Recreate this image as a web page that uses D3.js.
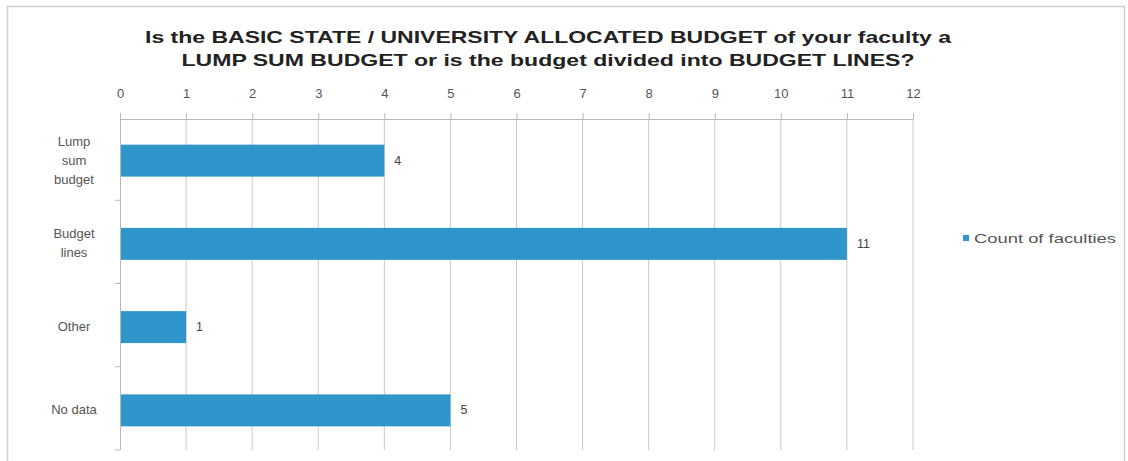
<!DOCTYPE html>
<html>
<head>
<meta charset="utf-8">
<script src="https://cdn.jsdelivr.net/npm/d3@7"></script>
<style>
  html, body { margin: 0; padding: 0; background: #fff; }
  svg { display: block; font-family: "Liberation Sans", Arial, sans-serif; }
</style>
</head>
<body>
<svg id="chart" width="1128" height="461"></svg>
<script>
// Survey answers and counts
const categories = ["Lump sum budget", "Budget lines", "Other", "No data"];
const categoryLines = [["Lump", "sum", "budget"], ["Budget", "lines"], ["Other"], ["No data"]];
const counts = [4, 11, 1, 5];
const tickValues = [0, 1, 2, 3, 4, 5, 6, 7, 8, 9, 10, 11, 12];
const seriesName = "Count of faculties";
const titleLines = [
  "Is the BASIC STATE / UNIVERSITY ALLOCATED  BUDGET of your faculty a",
  "LUMP SUM BUDGET or is the budget divided into BUDGET  LINES?"
];

const svg = d3.select("#chart");
const barColor = "#2e96ca";
const plot = { left: 120, right: 913, top: 117, bottom: 450 };

// outer frame
svg.append("rect")
  .attr("x", 7.5).attr("y", 6.5)
  .attr("width", 1117).attr("height", 470)
  .attr("fill", "#fff")
  .attr("stroke", "#cfcfcf").attr("stroke-width", 1.5);

// title
svg.append("g").selectAll("text")
  .data(titleLines)
  .join("text")
  .attr("x", 548)
  .attr("y", (d, i) => 43 + i * 23)
  .attr("text-anchor", "middle")
  .attr("font-size", 17)
  .attr("font-weight", "bold")
  .attr("fill", "#222")
  .attr("textLength", (d, i) => i === 0 ? 806 : 733)
  .attr("lengthAdjust", "spacingAndGlyphs")
  .text(d => d);

const x = d3.scaleLinear().domain([0, 12]).range([plot.left, plot.right]);
const y = d3.scaleBand().domain(categories)
  .range([plot.top, plot.bottom])
  .paddingInner(0.616).paddingOuter(0.308);

// vertical gridlines
svg.append("g").selectAll("line")
  .data(tickValues.slice(1))
  .join("line")
  .attr("x1", d => x(d)).attr("x2", d => x(d))
  .attr("y1", plot.top + 2).attr("y2", plot.bottom)
  .attr("stroke", "#c9c9c9").attr("stroke-width", 1);

// top value axis
const xAxis = svg.append("g")
  .attr("transform", `translate(0,${plot.top + 2})`)
  .call(d3.axisTop(x).tickValues(tickValues).tickSize(6).tickPadding(15).tickSizeOuter(0));
xAxis.select(".domain").attr("stroke", "#b8b8b8");
xAxis.selectAll(".tick line").attr("stroke", "#b8b8b8");
xAxis.selectAll(".tick text")
  .attr("font-size", 13).attr("fill", "#555")
  .attr("font-family", "Liberation Sans, Arial, sans-serif");

// category axis
const step = y.step();
const bounds = categories.map((c, i) => plot.top + step * (i + 1));
svg.append("line")
  .attr("x1", plot.left + 0.5).attr("x2", plot.left + 0.5)
  .attr("y1", plot.top + 2).attr("y2", plot.bottom)
  .attr("stroke", "#b8b8b8");
svg.append("g").selectAll("line")
  .data(bounds)
  .join("line")
  .attr("x1", plot.left - 5).attr("x2", plot.left)
  .attr("y1", d => d).attr("y2", d => d)
  .attr("stroke", "#b8b8b8");

// bars
svg.append("g").selectAll("rect")
  .data(counts)
  .join("rect")
  .attr("x", x(0) + 1)
  .attr("y", (d, i) => y(categories[i]) + 2)
  .attr("width", d => x(d) - x(0) - 1)
  .attr("height", y.bandwidth())
  .attr("fill", barColor);

// value labels
svg.append("g").selectAll("text")
  .data(counts)
  .join("text")
  .attr("x", d => x(d) + 10)
  .attr("y", (d, i) => y(categories[i]) + 2 + y.bandwidth() / 2 + 4)
  .attr("font-size", 12.5).attr("fill", "#444")
  .text(d => d);

// category labels
const catG = svg.append("g").selectAll("text")
  .data(categoryLines)
  .join("text")
  .attr("text-anchor", "middle")
  .attr("font-size", 13).attr("fill", "#555")
  .attr("y", (d, i) => y(categories[i]) + 2 + y.bandwidth() / 2 + 4 - (d.length - 1) * 9.5);
catG.selectAll("tspan")
  .data(d => d)
  .join("tspan")
  .attr("x", 74)
  .attr("dy", (d, j) => j === 0 ? 0 : 19)
  .text(d => d);

// legend
svg.append("rect")
  .attr("x", 963).attr("y", 235).attr("width", 6).attr("height", 6)
  .attr("fill", barColor);
svg.append("text")
  .attr("x", 974).attr("y", 243)
  .attr("font-size", 13.5).attr("fill", "#555")
  .attr("textLength", 142).attr("lengthAdjust", "spacingAndGlyphs")
  .text(seriesName);
</script>
</body>
</html>
